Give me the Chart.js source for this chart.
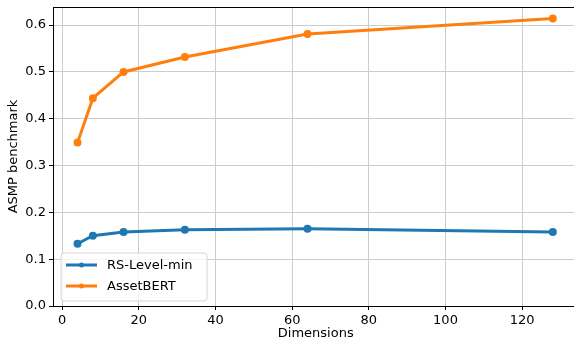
<!DOCTYPE html>
<html>
<head>
<meta charset="utf-8">
<script src="https://cdn.jsdelivr.net/npm/chart.js@4.4.0/dist/chart.umd.min.js"></script>
<style>
  html, body { margin: 0; padding: 0; background: #fff; overflow: hidden; }
  #wrap { width: 574px; height: 341px; overflow: hidden; }
  canvas { display: block; }
</style>
</head>
<body>
<div id="wrap"><canvas id="grafico" width="584" height="341"></canvas></div>
<script>
// dimensions on the x axis
var dimensiones = [4, 8, 16, 32, 64, 128];
var rsLevelMin = [0.133, 0.150, 0.158, 0.163, 0.165, 0.158];
var assetBert = [0.349, 0.444, 0.500, 0.532, 0.581, 0.614];
var ticksX = [0, 20, 40, 60, 80, 100, 120];
var nombres = ["RS-Level-min", "AssetBERT"];
var colores = ["#1f77b4", "#ff7f0e"];

function puntos(ys) {
    return dimensiones.map(function (x, i) { return { x: x, y: ys[i] }; });
}

var fuente = "'DejaVu Sans', sans-serif";

// top frame line + legend inside, lower left
var marco = {
    id: "marco",
    afterDraw: function (chart) {
        var ctx = chart.ctx, a = chart.chartArea;
        ctx.save();
        ctx.strokeStyle = "#000";
        ctx.lineWidth = 1;
        ctx.beginPath();
        ctx.moveTo(a.right, Math.round(a.top) + 0.5);
        ctx.lineTo(Math.round(a.left) + 0.5, Math.round(a.top) + 0.5);
        ctx.stroke();

        // legend box
        var bx = a.left + 8, by = a.bottom - 53, bw = 146, bh = 48, r = 3;
        ctx.beginPath();
        ctx.moveTo(bx + r, by);
        ctx.arcTo(bx + bw, by, bx + bw, by + bh, r);
        ctx.arcTo(bx + bw, by + bh, bx, by + bh, r);
        ctx.arcTo(bx, by + bh, bx, by, r);
        ctx.arcTo(bx, by, bx + bw, by, r);
        ctx.closePath();
        ctx.fillStyle = "rgba(255,255,255,0.8)";
        ctx.fill();
        ctx.strokeStyle = "#d6d6d6";
        ctx.stroke();

        ctx.font = "13px " + fuente;
        ctx.textBaseline = "middle";
        chart.data.datasets.forEach(function (ds, i) {
            var y = by + 12 + i * 21;
            ctx.strokeStyle = ds.borderColor;
            ctx.lineWidth = 3;
            ctx.beginPath();
            ctx.moveTo(bx + 5, y);
            ctx.lineTo(bx + 36, y);
            ctx.stroke();
            ctx.fillStyle = ds.borderColor;
            ctx.beginPath();
            ctx.arc(bx + 20.5, y, 2.5, 0, Math.PI * 2);
            ctx.fill();
            ctx.fillStyle = "#000";
            ctx.fillText(ds.label, bx + 46, y + 1);
        });
        ctx.restore();
    }
};

var datos = {
    datasets: [{
        label: nombres[0],
        data: puntos(rsLevelMin),
        borderColor: colores[0],
        backgroundColor: colores[0],
        borderWidth: 3,
        pointRadius: 2.5,
        pointHoverRadius: 2.5
    }, {
        label: nombres[1],
        data: puntos(assetBert),
        borderColor: colores[1],
        backgroundColor: colores[1],
        borderWidth: 3,
        pointRadius: 2.5,
        pointHoverRadius: 2.5
    }]
};

function sinRelleno(s) {
    s.paddingTop = 0; s.paddingBottom = 0; s.paddingLeft = 0; s.paddingRight = 0;
}

var opciones = {
    responsive: false,
    animation: false,
    layout: { padding: { top: 7, right: 0, left: 0, bottom: 0 } },
    plugins: {
        legend: { display: false },
        tooltip: { enabled: false }
    },
    scales: {
        x: {
            type: "linear",
            min: -2.4,
            max: 134.7,
            afterBuildTicks: function (s) {
                s.ticks = ticksX.map(function (v) { return { value: v }; });
            },
            ticks: { color: "#000", padding: 3, font: { family: fuente, size: 13 } },
            grid: { color: "#cccccc", tickColor: "#000", tickLength: 4 },
            border: { color: "#000" },
            title: { display: true, text: "Dimensions", color: "#000",
                     padding: { top: 0, bottom: 0 }, font: { family: fuente, size: 13 } },
            afterFit: function (s) { s.height = 35; sinRelleno(s); }
        },
        y: {
            min: 0,
            max: 0.6387,
            ticks: { stepSize: 0.1, includeBounds: false, color: "#000", padding: 3,
                     font: { family: fuente, size: 13 },
                     callback: function (v) { return v.toFixed(1); } },
            grid: { color: "#cccccc", tickColor: "#000", tickLength: 4 },
            border: { color: "#000" },
            title: { display: true, text: "ASMP benchmark", color: "#000",
                     padding: { top: 6, bottom: 0 }, font: { family: fuente, size: 13 } },
            afterFit: function (s) { s.width = 53; sinRelleno(s); }
        }
    }
};

var ctx = document.getElementById("grafico");
var grafico = new Chart(ctx, {
    type: "line",
    data: datos,
    options: opciones,
    plugins: [marco]
});
</script>
</body>
</html>
